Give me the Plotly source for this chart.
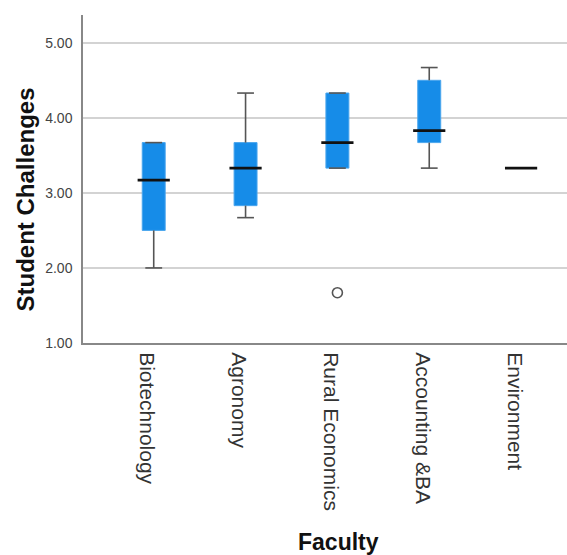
import plotly.graph_objects as go

categories = ["Biotechnology", "Agronomy", "Rural Economics", "Accounting &BA", "Environment"]
lower_whisker = [2.00, 2.67, 3.33, 3.33, 3.33]
q1 = [2.50, 2.83, 3.33, 3.67, 3.33]
median = [3.17, 3.33, 3.67, 3.83, 3.33]
q3 = [3.67, 3.67, 4.33, 4.50, 3.33]
upper_whisker = [3.67, 4.33, 4.33, 4.67, 3.33]
outlier_cat = [2]
outlier_val = [1.67]
y_ticks = [1.00, 2.00, 3.00, 4.00, 5.00]
x_title = "Faculty"
y_title = "Student Challenges"

idx = list(range(len(categories)))
box_w = 0.25
blue = "#168ce8"
whisk = "#555555"

fig = go.Figure()

# whiskers
wx, wy = [], []
for i in idx:
    wx += [i, i, None, i, i, None]
    wy += [q3[i], upper_whisker[i], None, q1[i], lower_whisker[i], None]
fig.add_trace(go.Scatter(x=wx, y=wy, mode="lines", line=dict(color=whisk, width=1.6),
                         hoverinfo="skip", showlegend=False))

# boxes
fig.add_trace(go.Bar(x=idx, base=q1, y=[b - a for a, b in zip(q1, q3)], width=box_w,
                     marker=dict(color=blue, line=dict(color="#4aa6ee", width=1)),
                     showlegend=False))

# caps
fig.add_trace(go.Scatter(x=idx + idx, y=upper_whisker + lower_whisker, mode="markers",
                         marker=dict(symbol="line-ew", size=12, line=dict(color=whisk, width=1.6)),
                         hoverinfo="skip", showlegend=False))

# medians
fig.add_trace(go.Scatter(x=idx, y=median, mode="markers",
                         marker=dict(symbol="line-ew", size=23, line=dict(color="#111111", width=2.8)),
                         showlegend=False))

# outliers
fig.add_trace(go.Scatter(x=outlier_cat, y=outlier_val, mode="markers",
                         marker=dict(symbol="circle-open", size=10, color=whisk, line=dict(width=1.6)),
                         showlegend=False))

fig.update_layout(
    width=567, height=555,
    margin=dict(l=83, r=0, t=15, b=212),
    paper_bgcolor="white", plot_bgcolor="white",
    font=dict(family="Liberation Sans, Arial, sans-serif", color="#333333"),
    barmode="overlay",
    annotations=[
        dict(text=f"<b>{y_title}</b>", xref="paper", yref="paper", x=0, y=0.4375,
             xshift=-58, xanchor="center", yanchor="middle", textangle=-90, showarrow=False,
             font=dict(size=24, color="#111111")),
        dict(text=f"<b>{x_title}</b>", xref="paper", yref="paper", x=0.5, y=0,
             xshift=13, yshift=-199, xanchor="center", yanchor="middle", showarrow=False,
             font=dict(size=23, color="#111111")),
    ],
)
fig.update_xaxes(
    range=[-0.77, 4.5], tickmode="array", tickvals=[i - 0.07 for i in idx], ticktext=categories,
    tickangle=90, tickfont=dict(size=21, color="#333333"), ticks="", showgrid=False,
    ticklabelstandoff=3, automargin=False,
    showline=True, linecolor="#888888", linewidth=2, zeroline=False,
)
fig.update_yaxes(
    range=[1.0, 5.37], tickmode="array", tickvals=y_ticks,
    ticktext=[f"{v:.2f}" for v in y_ticks], automargin=False,
    tickfont=dict(size=14, color="#444444"), ticks="", ticklabelstandoff=6,
    showgrid=True, gridcolor="#d3d3d3", gridwidth=1.5,
    showline=True, linecolor="#888888", linewidth=1.5, zeroline=False,
)

fig.write_html("out.html", config={"displayModeBar": False},
               post_script="document.body.style.margin='0';")
